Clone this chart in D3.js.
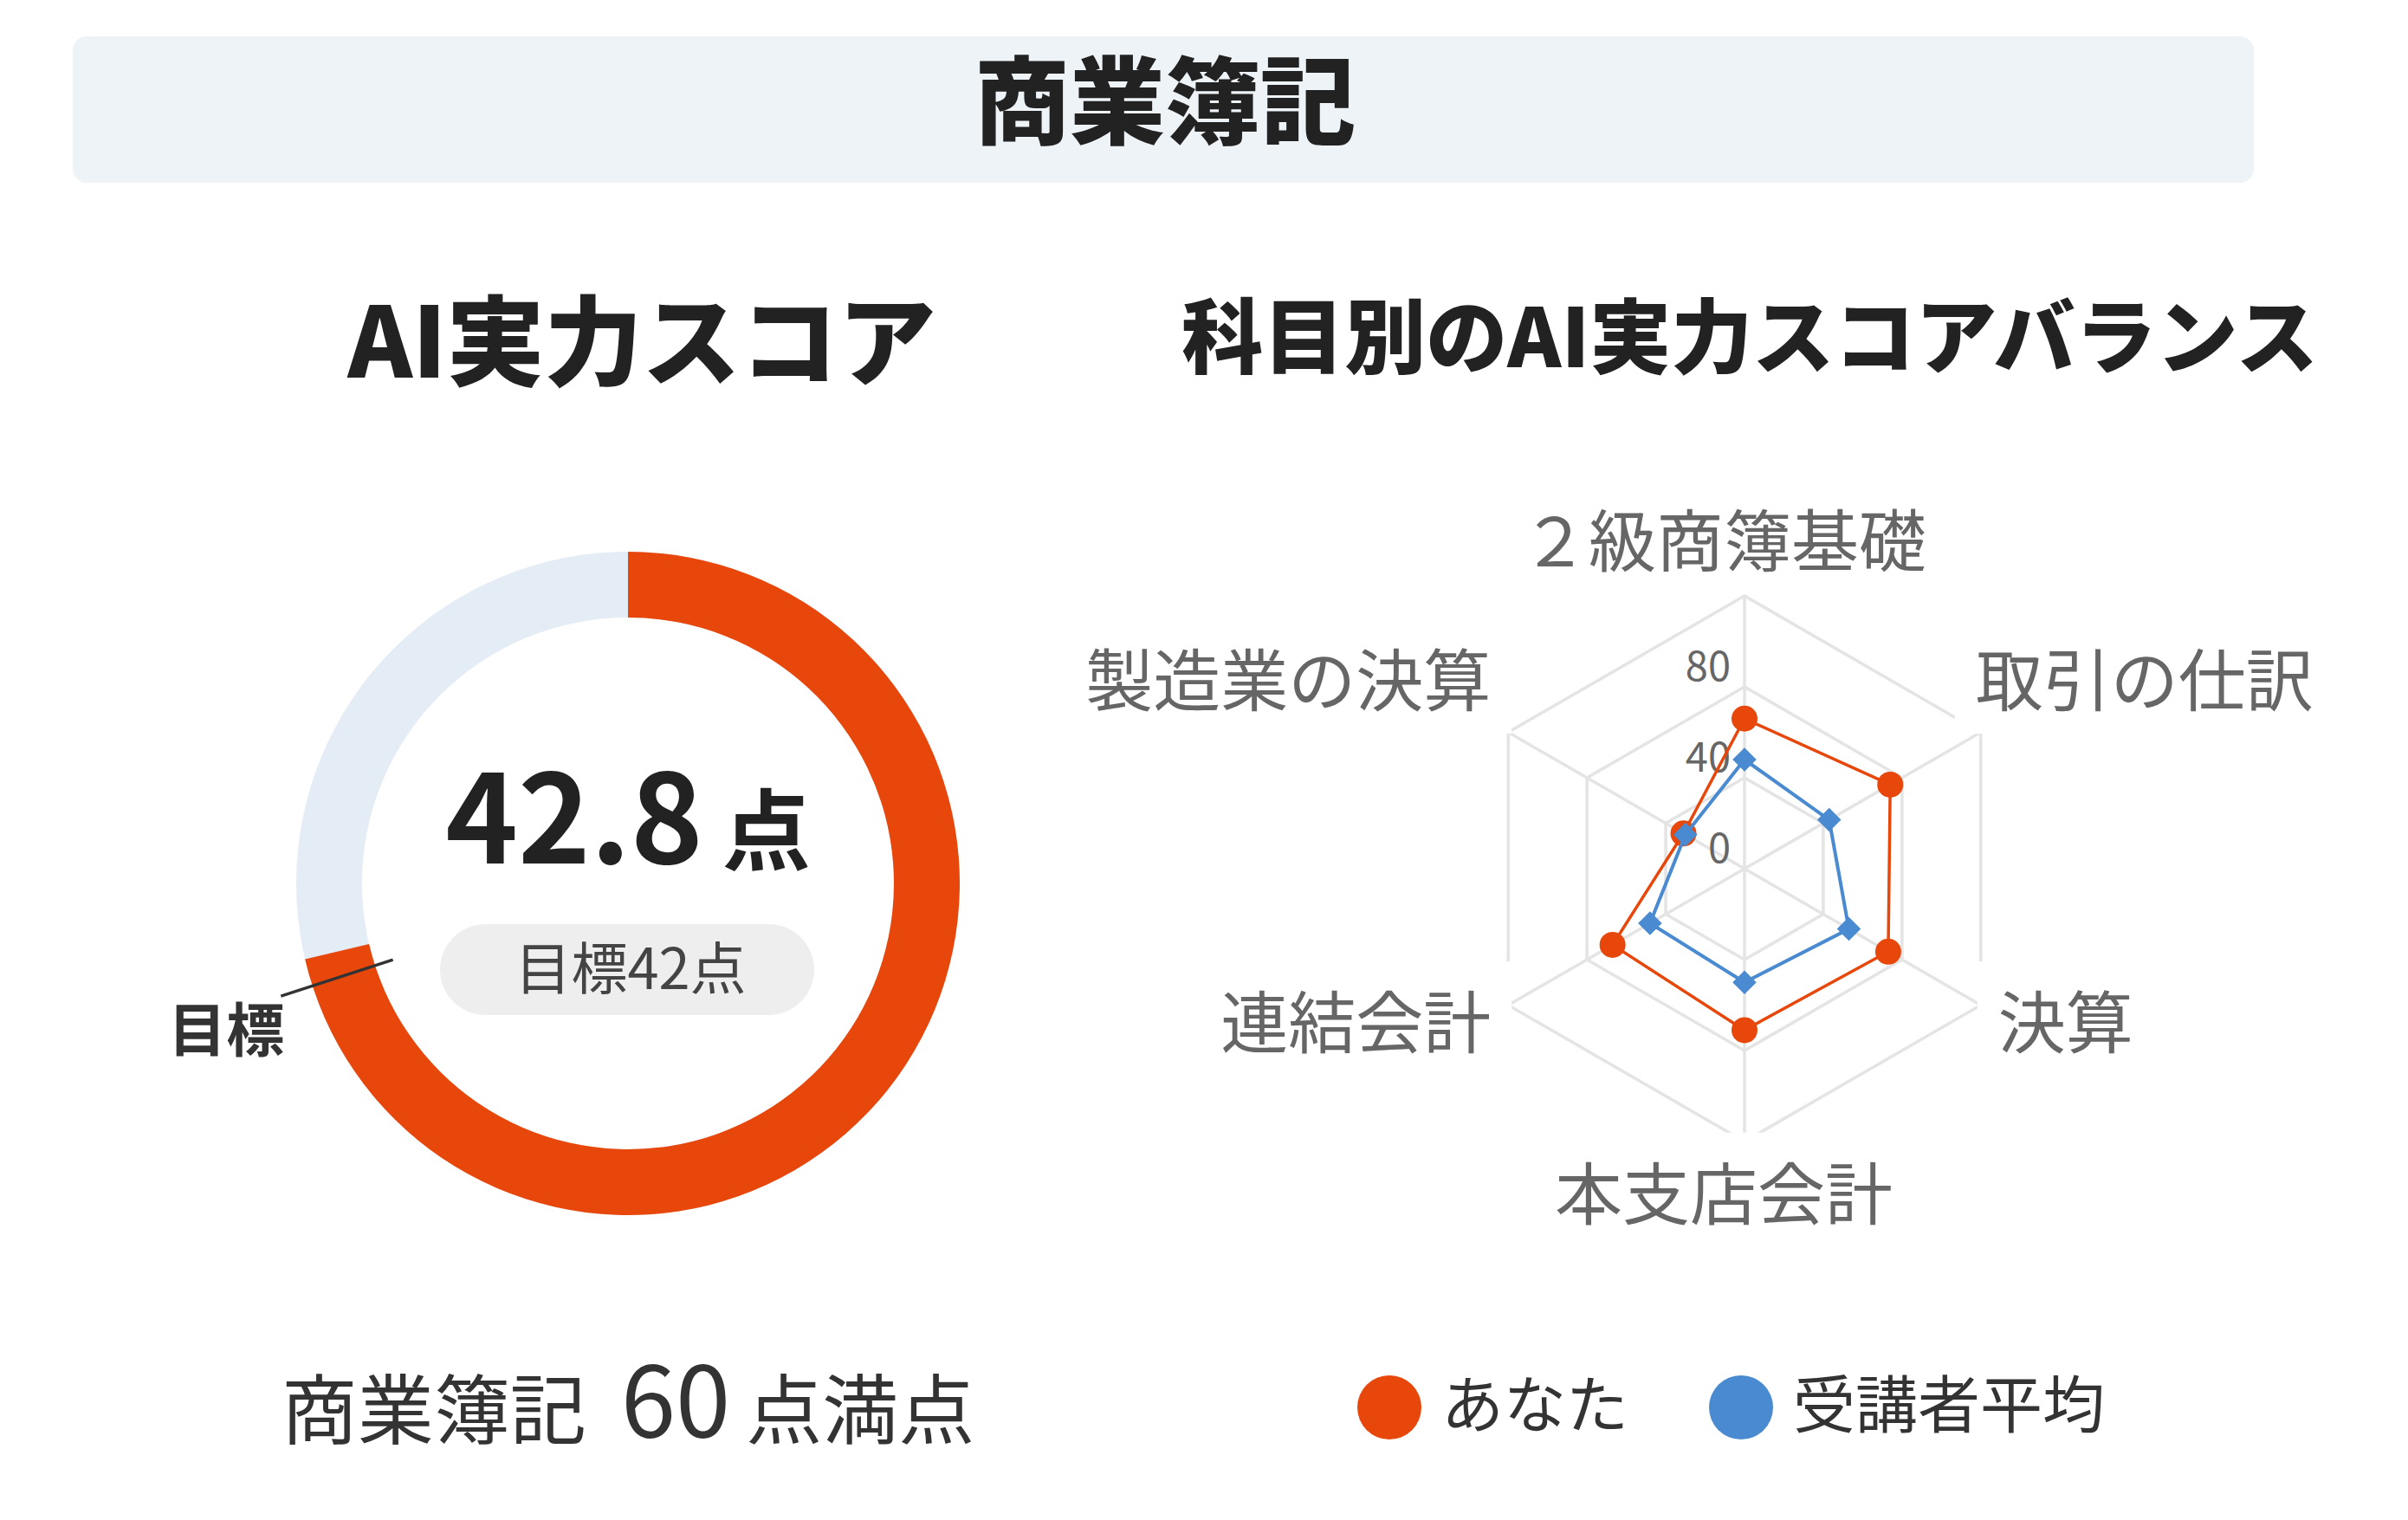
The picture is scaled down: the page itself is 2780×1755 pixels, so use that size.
<!DOCTYPE html>
<html>
<head>
<meta charset="utf-8">
<script src="https://cdn.jsdelivr.net/npm/d3@7"></script>
<style>
  html, body { margin: 0; padding: 0; background: #fff; }
  svg text { font-family: "Noto Sans CJK JP", "Noto Sans", sans-serif; }
</style>
</head>
<body>
<div id="vis"></div>
<script>
// data
var sectionTitle = "商業簿記";
var gaugeTitle = "AI実力スコア";
var radarTitle = "科目別のAI実力スコアバランス";

var gaugeScore = 42.8;
var gaugeMax = 60;
var gaugeTarget = 42;

var radarAxes = ["２級商簿基礎", "取引の仕訳", "決算", "本支店会計", "連結会計", "製造業の決算"];
var youValues = [66, 74, 73, 71, 67, 31];
var avgValues = [48, 43, 53, 50, 48, 30];
var radarRings = [40, 80, 120];
var radarTickLabels = [0, 40, 80];
var radarMax = 120;
var legendNames = ["あなた", "受講者平均"];

var width = 2780;
var height = 1755;
var orange = "#E8470C";
var blue = "#4A8AD0";

var svg = d3.select("#vis").append("svg")
    .attr("width", width)
    .attr("height", height);

// header band
svg.append("rect")
    .attr("x", 84).attr("y", 42)
    .attr("width", 2518).attr("height", 169)
    .attr("rx", 16)
    .attr("fill", "#EEF3F8");

svg.append("text")
    .attr("x", 1345).attr("y", 158)
    .attr("text-anchor", "middle")
    .attr("font-size", 110)
    .attr("font-weight", 900)
    .attr("fill", "#222")
    .text(sectionTitle);

svg.append("text")
    .attr("x", 741).attr("y", 436)
    .attr("text-anchor", "middle")
    .attr("font-size", 113)
    .attr("font-weight", 900)
    .attr("fill", "#222")
    .text(gaugeTitle);

svg.append("text")
    .attr("x", 2020).attr("y", 424)
    .attr("text-anchor", "middle")
    .attr("font-size", 94)
    .attr("font-weight", 900)
    .attr("fill", "#222")
    .text(radarTitle);

/* ---------- gauge ---------- */
var gcx = 725, gcy = 1020;
var gOuter = 383, gInner = 307;

var gauge = svg.append("g")
    .attr("class", "gauge")
    .attr("transform", "translate(" + gcx + "," + gcy + ")");

var angle = d3.scaleLinear().domain([0, gaugeMax]).range([0, 2 * Math.PI]);
var arc = d3.arc().innerRadius(gInner).outerRadius(gOuter);

gauge.append("path")
    .attr("d", arc({startAngle: 0, endAngle: angle(gaugeMax)}))
    .attr("fill", "#E4ECF5");

gauge.append("path")
    .attr("d", arc({startAngle: 0, endAngle: angle(gaugeScore)}))
    .attr("fill", orange);

// target marker
var ta = angle(gaugeTarget);
var t0 = [Math.sin(ta) * gOuter * 0.745, -Math.cos(ta) * gOuter * 0.745];
var t1 = [Math.sin(ta) * gOuter * 1.1, -Math.cos(ta) * gOuter * 1.1];

gauge.append("line")
    .attr("x1", t0[0]).attr("y1", t0[1])
    .attr("x2", t1[0]).attr("y2", t1[1])
    .attr("stroke", "#333")
    .attr("stroke-width", 3.5);

gauge.append("text")
    .attr("x", t1[0] + 4).attr("y", t1[1] + 64)
    .attr("text-anchor", "end")
    .attr("font-size", 67)
    .attr("font-weight", 700)
    .attr("fill", "#333")
    .text("目標");

// score in the middle
var scoreText = gauge.append("text")
    .attr("x", 0).attr("y", -23)
    .attr("text-anchor", "middle")
    .attr("font-weight", 700)
    .attr("fill", "#222");
scoreText.append("tspan")
    .attr("font-size", 142)
    .text(gaugeScore.toFixed(1));
scoreText.append("tspan")
    .attr("font-size", 102)
    .attr("dx", 22)
    .text("点");

gauge.append("rect")
    .attr("x", -217).attr("y", 47)
    .attr("width", 432).attr("height", 105)
    .attr("rx", 52.5)
    .attr("fill", "#EEEEEE");

gauge.append("text")
    .attr("x", 3).attr("y", 122)
    .attr("text-anchor", "middle")
    .attr("font-size", 65)
    .attr("fill", "#444")
    .text("目標" + gaugeTarget + "点");

var fullText = svg.append("text")
    .attr("x", gcx).attr("y", 1660)
    .attr("text-anchor", "middle")
    .attr("fill", "#333");
fullText.append("tspan").attr("font-size", 88).text(sectionTitle);
fullText.append("tspan").attr("font-size", 114).attr("dx", 40).text(gaugeMax);
fullText.append("tspan").attr("font-size", 88).attr("dx", 18).text("点満点");

/* ---------- radar ---------- */
var rcx = 2014, rcy = 1003, R = 315;
var n = radarAxes.length;

var rScale = d3.scaleLinear().domain([0, radarMax]).range([0, R]);
var axisAngle = function(i) { return i * 2 * Math.PI / n; };
var pt = function(i, r) { return [Math.sin(axisAngle(i)) * r, -Math.cos(axisAngle(i)) * r]; };

var radar = svg.append("g")
    .attr("class", "radar")
    .attr("transform", "translate(" + rcx + "," + rcy + ")");

var ring = d3.lineRadial()
    .angle(function(d, i) { return axisAngle(i); })
    .radius(function(d) { return rScale(d); })
    .curve(d3.curveLinearClosed);

radar.selectAll(".ring")
    .data(radarRings)
    .enter().append("path")
    .attr("class", "ring")
    .attr("d", function(v) { return ring(radarAxes.map(function() { return v; })); })
    .attr("fill", "none")
    .attr("stroke", "#E4E4E4")
    .attr("stroke-width", 3.5);

radar.selectAll(".spoke")
    .data(radarAxes)
    .enter().append("line")
    .attr("class", "spoke")
    .attr("x1", 0).attr("y1", 0)
    .attr("x2", function(d, i) { return pt(i, rScale(radarMax))[0]; })
    .attr("y2", function(d, i) { return pt(i, rScale(radarMax))[1]; })
    .attr("stroke", "#E4E4E4")
    .attr("stroke-width", 3.5);

// axis names, each on a white plate that hides the grid behind it
var names = radar.selectAll(".axis-name")
    .data(radarAxes)
    .enter().append("g")
    .attr("class", "axis-name");

names.each(function(d, i) {
    var a = axisAngle(i);
    var sx = Math.sin(a), cy = -Math.cos(a);
    var x, y, anchor;
    if (Math.abs(sx) < 0.01) {
        x = -24;
        y = cy < 0 ? -(R + 64) : R + 60;
        anchor = "middle";
    } else {
        var gap = (sx > 0 && cy < 0) ? -6 : 20;
        x = (sx > 0 ? 1 : -1) * (R * Math.cos(Math.PI / 6) + gap);
        y = cy < 0 ? -(R / 2 + 60) : R / 2 + 20;
        anchor = sx > 0 ? "start" : "end";
    }
    var grp = d3.select(this);
    var plate = grp.append("rect").attr("fill", "#fff");
    var t = grp.append("text")
        .attr("x", x).attr("y", y + 0.38 * 78)
        .attr("text-anchor", anchor)
        .attr("font-size", 78)
        .attr("fill", "#666")
        .text(d);
    var bb = t.node().getBBox();
    plate.attr("x", bb.x - 24).attr("y", bb.y - 10)
        .attr("width", bb.width + 48).attr("height", bb.height + 20);
});

radar.selectAll(".tick-label")
    .data(radarTickLabels)
    .enter().append("text")
    .attr("class", "tick-label")
    .attr("x", -16)
    .attr("y", function(v) { return -rScale(v) - 24 + 0.36 * 47; })
    .attr("text-anchor", "end")
    .attr("font-size", 47)
    .attr("fill", "#666")
    .text(function(v) { return v; });

// series
radar.append("path")
    .attr("d", ring(youValues))
    .attr("fill", "none")
    .attr("stroke", orange)
    .attr("stroke-width", 3.5);

radar.selectAll(".you-dot")
    .data(youValues)
    .enter().append("circle")
    .attr("class", "you-dot")
    .attr("cx", function(d, i) { return pt(i, rScale(d))[0]; })
    .attr("cy", function(d, i) { return pt(i, rScale(d))[1]; })
    .attr("r", 15)
    .attr("fill", orange);

radar.append("path")
    .attr("d", ring(avgValues))
    .attr("fill", "none")
    .attr("stroke", blue)
    .attr("stroke-width", 4);

radar.selectAll(".avg-dot")
    .data(avgValues)
    .enter().append("path")
    .attr("class", "avg-dot")
    .attr("d", d3.symbol().type(d3.symbolSquare).size(380))
    .attr("transform", function(d, i) {
        var p = pt(i, rScale(d));
        return "translate(" + p[0] + "," + p[1] + ") rotate(45)";
    })
    .attr("fill", blue);

/* ---------- legend ---------- */
var legendColors = [orange, blue];
var legend = svg.append("g")
    .attr("class", "legend")
    .attr("transform", "translate(1604,1625)");

var lx = 0;
legendNames.forEach(function(name, i) {
    var item = legend.append("g").attr("transform", "translate(" + lx + ",0)");
    item.append("circle")
        .attr("r", 37)
        .attr("fill", legendColors[i]);
    var t = item.append("text")
        .attr("x", 60).attr("y", 0.38 * 72 - 4)
        .attr("font-size", 72)
        .attr("fill", "#333")
        .text(name);
    lx += 60 + t.node().getComputedTextLength() + 130;
});
</script>
</body>
</html>
